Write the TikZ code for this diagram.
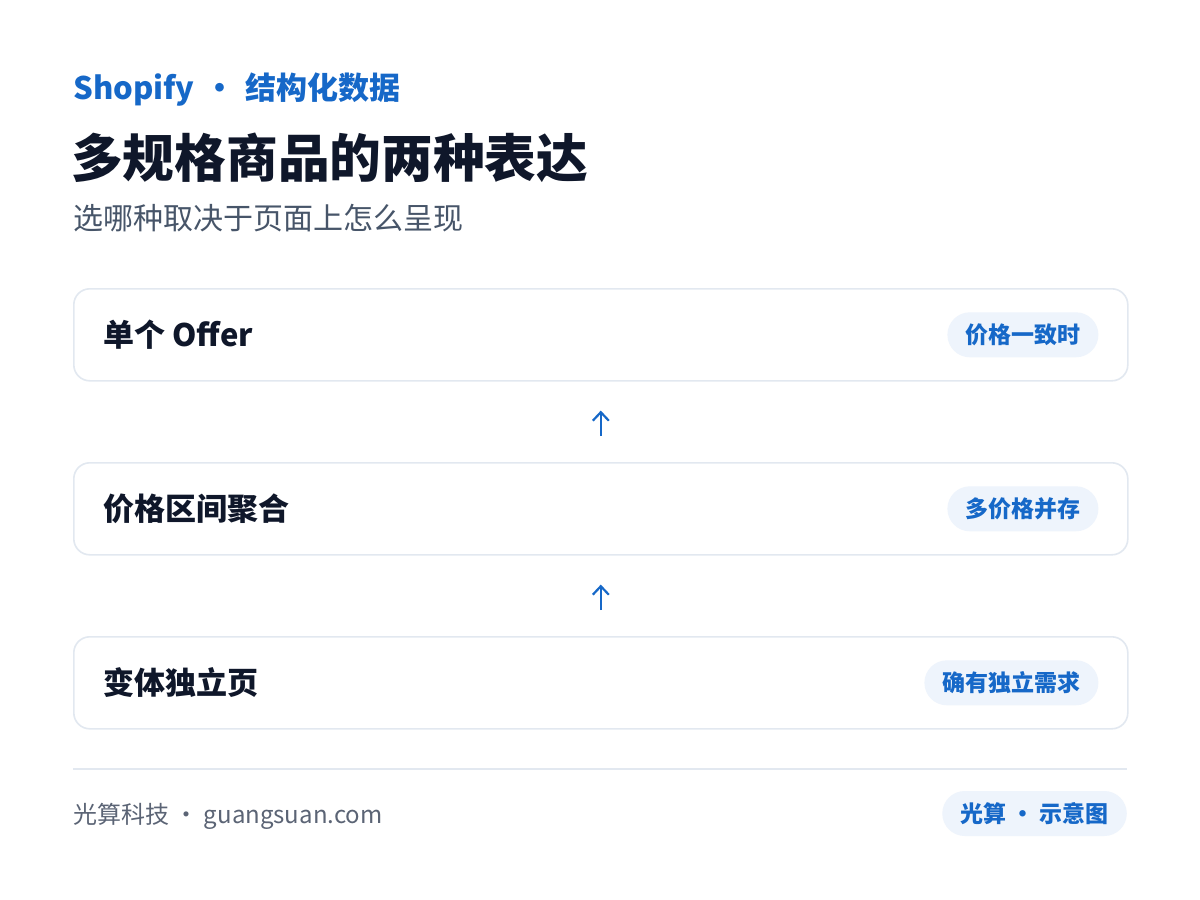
\documentclass[tikz,border=0pt]{standalone}
\usepackage{fontspec}
\setmainfont{Noto Sans CJK SC}
\usetikzlibrary{arrows.meta}
\definecolor{brand}{HTML}{1668C8}
\definecolor{ink}{HTML}{0F172A}
\definecolor{subink}{HTML}{475569}
\definecolor{footink}{HTML}{5B6475}
\definecolor{cardline}{HTML}{E2E8F0}
\definecolor{pillfill}{HTML}{EEF4FC}
\tikzset{
  card/.style={draw=cardline, line width=1.6pt, fill=white, rounded corners=16pt,
    minimum width=1054pt, minimum height=92pt, inner sep=0pt, anchor=north west},
  cardlabel/.style={anchor=west, inner sep=0pt, text=ink,
    font=\fontsize{31}{37}\selectfont\bfseries},
  pill/.style={fill=pillfill, rounded corners=22.5pt, minimum height=45pt,
    inner xsep=18pt, inner ysep=0pt, text=brand,
    font=\fontsize{23}{28}\selectfont\bfseries},
  flow/.style={draw=brand, line width=2.2pt, -{Straight Barb[length=8.5pt,width=16pt,line width=2.2pt]}},
}
\begin{document}
\begin{tikzpicture}[x=1pt,y=-1pt]
\useasboundingbox[fill=white] (0,0) rectangle (1200,900);
% header
\node[anchor=west, inner sep=0pt, text=brand, font=\fontsize{31}{37}\selectfont\bfseries]
  (kicker) at (73,89.5) {Shopify\hspace{3pt} · \hspace{3pt}结构化数据};
\node[anchor=west, inner sep=0pt, text=ink, font=\fontsize{51.7}{62}\selectfont\bfseries]
  (title) at (71,158) {多规格商品的两种表达};
\node[anchor=west, inner sep=0pt, text=subink, font=\fontsize{30}{36}\selectfont]
  (subtitle) at (73,218.5) {选哪种取决于页面上怎么呈现};
% cards
\node[card] (c1) at (73,288) {};
\node[card] (c2) at (73,462) {};
\node[card] (c3) at (73,636) {};
\node[cardlabel] (l1) at ([xshift=30pt]c1.west) {单个 Offer};
\node[cardlabel] (l2) at ([xshift=30pt]c2.west) {价格区间聚合};
\node[cardlabel] (l3) at ([xshift=30pt]c3.west) {变体独立页};
\node[pill, anchor=east] (b1) at ([xshift=-30pt]c1.east) {价格一致时};
\node[pill, anchor=east] (b2) at ([xshift=-30pt]c2.east) {多价格并存};
\node[pill, anchor=east] (b3) at ([xshift=-30pt]c3.east) {确有独立需求};
% arrows
\draw[flow, shorten <=26pt, shorten >=29pt] (c2.north) -- (c1.south);
\draw[flow, shorten <=26pt, shorten >=29pt] (c3.north) -- (c2.south);
% footer
\coordinate (fl) at (73,769);
\coordinate (fr) at (1127,769);
\draw[cardline, line width=2pt] (fl) -- (fr);
\node[anchor=west, inner sep=0pt, text=footink, font=\fontsize{24}{29}\selectfont]
  (foot) at (73,816.5) {光算科技 · guangsuan.com};
\node[pill, anchor=east] (fb) at (1127,813.5) {光算 · 示意图};
\end{tikzpicture}
\end{document}
